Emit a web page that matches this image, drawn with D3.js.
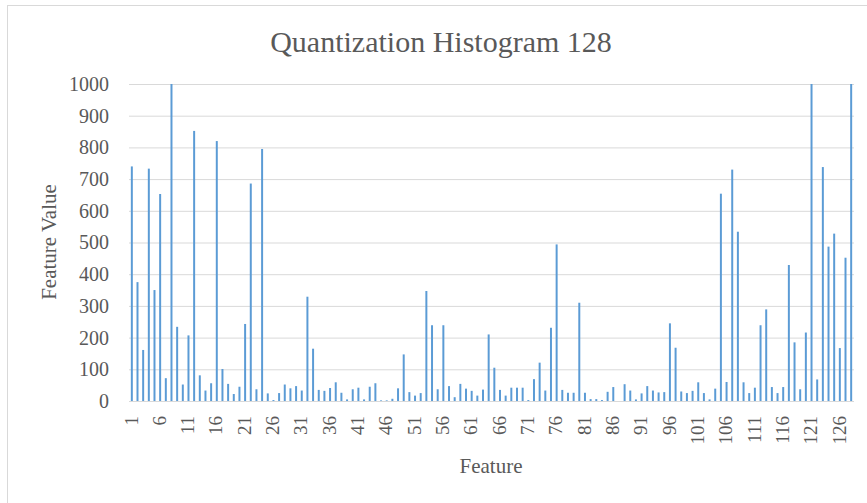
<!DOCTYPE html>
<html>
<head>
<meta charset="utf-8">
<script src="https://cdn.jsdelivr.net/npm/d3@7"></script>
<style>
  html, body { margin: 0; padding: 0; background: #fff; }
  svg { display: block; }
  svg text { font-family: "Liberation Serif", "Times New Roman", serif; }
</style>
</head>
<body>
<svg id="chart" width="867" height="503"></svg>
<script>
'use strict';

var title = 'Quantization Histogram 128';
var xTitle = 'Feature';
var yTitle = 'Feature Value';

// one bar per feature, 1..128
var features = d3.range(1, 129);

var values = [
  740, 375, 161, 733, 350, 653, 72, 1000, 234, 52,
  207, 852, 81, 33, 56, 820, 101, 54, 22, 45,
  243, 686, 37, 795, 24, 3, 25, 52, 40, 47,
  33, 329, 165, 35, 32, 41, 59, 26, 5, 37,
  42, 5, 45, 56, 2, 2, 7, 40, 147, 28,
  17, 25, 347, 239, 37, 239, 47, 12, 54, 39,
  32, 17, 36, 210, 105, 35, 17, 42, 42, 42,
  3, 69, 121, 33, 231, 494, 35, 26, 26, 310,
  26, 6, 6, 3, 29, 44, 0, 53, 33, 5,
  24, 47, 33, 27, 28, 245, 168, 30, 25, 32,
  59, 25, 5, 39, 654, 60, 730, 534, 59, 25,
  42, 239, 289, 44, 25, 44, 429, 185, 37, 216,
  1000, 68, 738, 487, 528, 167, 452, 1000
];

var yTicks = [0, 100, 200, 300, 400, 500, 600, 700, 800, 900, 1000];
// Excel labels every fifth category
var xTickLabels = features.filter(function(f) { return (f - 1) % 5 === 0; });

var svg = d3.select('#chart');
var serif = '"Liberation Serif", "Times New Roman", serif';
var textColor = '#595959';
var gridColor = '#d9d9d9';

// chart frame, runs off the right and bottom of the picture
svg.append('rect')
  .attr('x', 7.5).attr('y', 5.5)
  .attr('width', 900).attr('height', 600)
  .attr('fill', '#fff')
  .attr('stroke', gridColor);

var x = d3.scaleBand()
  .domain(features)
  .range([129, 854])
  .paddingInner(0.65)
  .paddingOuter(0.325);

var y = d3.scaleLinear()
  .domain([0, 1000])
  .range([401, 84]);

// gridlines + y labels
var yAxis = d3.axisLeft(y)
  .tickValues(yTicks)
  .tickSize(-(854 - 129))
  .tickPadding(20)
  .tickFormat(d3.format('d'));

var gy = svg.append('g')
  .attr('transform', 'translate(129,0)')
  .call(yAxis);
gy.select('.domain').remove();
gy.selectAll('.tick line').attr('stroke', gridColor);
gy.selectAll('.tick text')
  .attr('fill', textColor)
  .attr('font-size', 20)
  .attr('font-family', serif);

// bars
svg.append('g')
  .selectAll('rect')
  .data(values)
  .join('rect')
  .attr('x', function(d, i) { return x(features[i]); })
  .attr('y', function(d) { return y(d); })
  .attr('width', x.bandwidth())
  .attr('height', function(d) { return y(0) - y(d); })
  .attr('fill', '#5b9bd5');

// x labels, rotated to read bottom to top
var xAxis = d3.axisBottom(x)
  .tickValues(xTickLabels)
  .tickSize(0)
  .tickPadding(0);

var gx = svg.append('g')
  .attr('transform', 'translate(0,401)')
  .call(xAxis);
gx.select('.domain').remove();
gx.selectAll('.tick text')
  .attr('fill', textColor)
  .attr('font-size', 19)
  .attr('font-family', serif)
  .attr('text-anchor', 'end')
  .attr('transform', 'rotate(-90)')
  .attr('x', -15)
  .attr('y', 0)
  .attr('dy', '0.3em');

// titles
svg.append('text')
  .attr('x', 441).attr('y', 52)
  .attr('text-anchor', 'middle')
  .attr('font-family', serif)
  .attr('font-size', 30)
  .attr('fill', textColor)
  .text(title);

svg.append('text')
  .attr('x', 491).attr('y', 473)
  .attr('text-anchor', 'middle')
  .attr('font-family', serif)
  .attr('font-size', 21)
  .attr('fill', textColor)
  .text(xTitle);

svg.append('text')
  .attr('transform', 'translate(56,242) rotate(-90)')
  .attr('text-anchor', 'middle')
  .attr('font-family', serif)
  .attr('font-size', 21)
  .attr('fill', textColor)
  .text(yTitle);
</script>
</body>
</html>
